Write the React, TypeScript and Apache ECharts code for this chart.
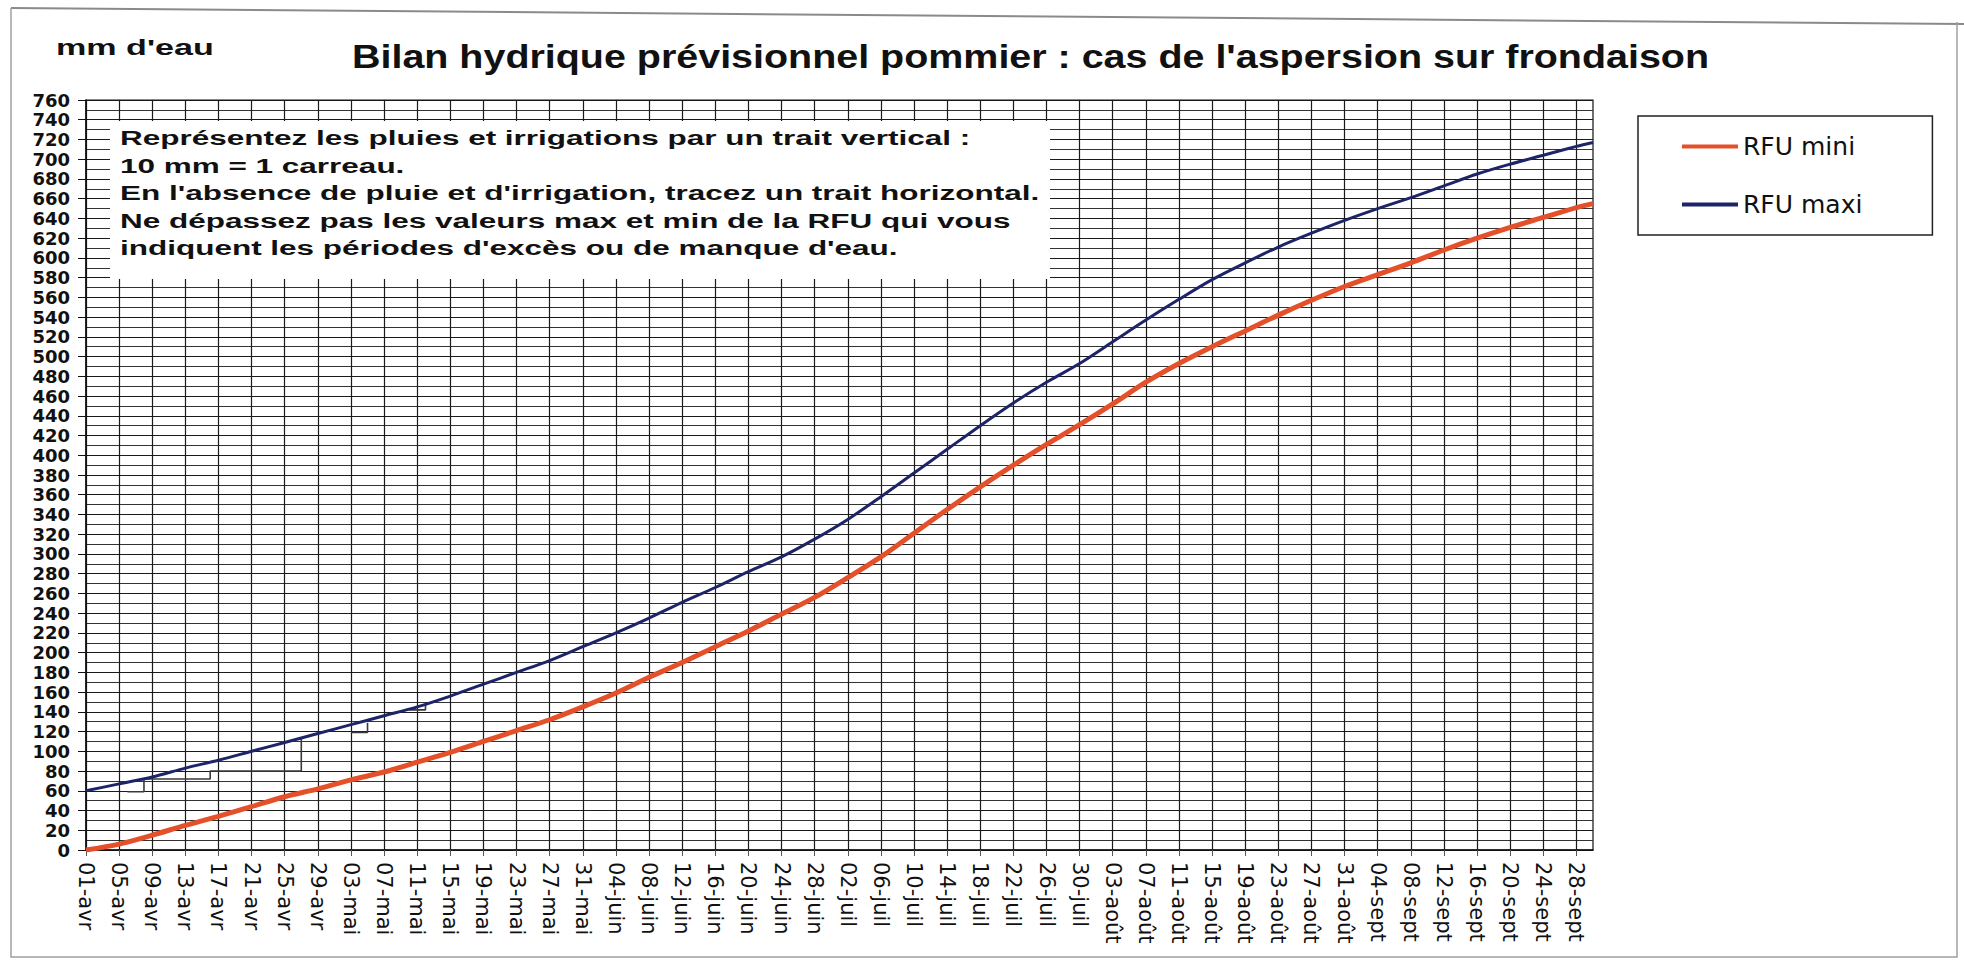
import React, { useEffect, useRef } from "react";
import * as echarts from "echarts";

// ---- data ----
const monthNames = ["avr", "mai", "juin", "juil", "août", "sept"];
const monthLengths = [30, 31, 30, 31, 31, 30];

const pointDates = [
  "01-avr", "05-avr", "09-avr", "13-avr", "17-avr", "21-avr", "25-avr", "29-avr",
  "03-mai", "07-mai", "11-mai", "15-mai", "19-mai", "23-mai", "27-mai", "31-mai",
  "04-juin", "08-juin", "12-juin", "16-juin", "20-juin", "24-juin", "28-juin",
  "02-juil", "06-juil", "10-juil", "14-juil", "18-juil", "22-juil", "26-juil", "30-juil",
  "03-août", "07-août", "11-août", "15-août", "19-août", "23-août", "27-août", "31-août",
  "04-sept", "08-sept", "12-sept", "16-sept", "20-sept", "24-sept", "28-sept", "30-sept",
];

const rfuMini = [
  0, 6, 15, 25, 34, 44, 54, 62,
  71, 79, 89, 99, 110, 121, 132, 145,
  159, 175, 190, 206, 222, 239, 256,
  276, 297, 321, 345, 368, 390, 411, 431,
  452, 474, 493, 510, 526, 542, 557, 571,
  583, 595, 608, 620, 631, 641, 651, 655,
];

const rfuMaxi = [
  60, 67, 74, 83, 91, 100, 109, 118,
  127, 136, 145, 156, 168, 180, 192, 206,
  220, 235, 251, 266, 282, 297, 315,
  335, 358, 382, 406, 430, 453, 474, 493,
  515, 537, 558, 578, 595, 611, 625, 638,
  650, 661, 673, 685, 695, 704, 713, 717,
];

// hand-drawn pencil trace (day index, mm)
const traceSegments = [
  [[5, 59], [7, 59], [7, 72], [15, 72], [15, 80], [26, 80], [26, 113]],
  [[32, 119], [34, 119], [34, 129]],
  [[39, 142], [41, 142], [41, 147]],
];

const yTicks = { min: 0, max: 760, step: 20 };

const titleText = "Bilan hydrique prévisionnel pommier : cas de l'aspersion sur frondaison";
const unitText = "mm d'eau";
const noteLines = [
  "Représentez les pluies et irrigations par un trait vertical :",
  "10 mm = 1 carreau.",
  "En l'absence de pluie et d'irrigation, tracez un trait horizontal.",
  "Ne dépassez pas les valeurs max et min de la RFU qui vous",
  "indiquent les périodes d'excès ou de manque d'eau.",
];

const categories: string[] = [];
monthNames.forEach((m, mi) => {
  for (let d = 1; d <= monthLengths[mi]; d++) {
    categories.push((d < 10 ? "0" : "") + d + "-" + m);
  }
});

const RED = "#E4502A";
const BLUE = "#1D2468";

export default function App() {
  const ref = useRef<HTMLDivElement>(null);
  useEffect(() => {
    if (!ref.current) return;
    const chart = echarts.init(ref.current, undefined, { renderer: "svg" });

    const miniData = pointDates.map((d, i) => [categories.indexOf(d), rfuMini[i]]);
    const maxiData = pointDates.map((d, i) => [categories.indexOf(d), rfuMaxi[i]]);

    const traceSeries = traceSegments.map((seg, i) => ({
      name: "trace" + i,
      type: "line",
      data: seg,
      showSymbol: false,
      lineStyle: { color: "#3a3a3a", width: 1.6 },
      z: 3,
      silent: true,
    }));

    const graphics: any[] = [
      {
        type: "polyline",
        shape: { points: [[11, 8], [1964, 24]] },
        style: { stroke: "#8a8a8a", lineWidth: 2, fill: null },
      },
      {
        type: "polyline",
        shape: { points: [[11, 8], [11, 957], [1957, 957], [1957, 22]] },
        style: { stroke: "#a0a0a0", lineWidth: 1.5, fill: null },
      },
      {
        type: "text",
        x: 56,
        y: 47,
        scaleX: 1.55,
        style: {
          text: unitText,
          fontFamily: "Liberation Sans",
          fontWeight: "bold",
          fontSize: 22,
          fill: "#111",
          align: "left",
          verticalAlign: "middle",
        },
      },
      {
        type: "text",
        x: 352,
        y: 57,
        scaleX: 1.195,
        style: {
          text: titleText,
          fontFamily: "Liberation Sans",
          fontWeight: "bold",
          fontSize: 33,
          fill: "#111",
          align: "left",
          verticalAlign: "middle",
        },
      },
      {
        type: "rect",
        z: 10,
        shape: { x: 110, y: 121, width: 940, height: 158 },
        style: { fill: "#ffffff", stroke: null },
      },
    ];
    noteLines.forEach((t, i) => {
      graphics.push({
        type: "text",
        z: 11,
        x: 120,
        y: 138 + i * 27.5,
        scaleX: 1.5,
        style: {
          text: t,
          fontFamily: "Liberation Sans",
          fontWeight: "bold",
          fontSize: 21,
          fill: "#111",
          align: "left",
          verticalAlign: "middle",
        },
      });
    });

    chart.setOption({
      animation: false,
      backgroundColor: "#ffffff",
      grid: {
        left: 86,
        right: 371,
        top: 100,
        bottom: 117,
        show: true,
        borderColor: "#111",
        borderWidth: 1.2,
        containLabel: false,
      },
      legend: {
        orient: "vertical",
        left: 1638,
        top: 116,
        padding: [18, 70, 18, 44],
        itemWidth: 56,
        itemHeight: 4,
        itemGap: 33,
        borderColor: "#222",
        borderWidth: 1.5,
        icon: "rect",
        data: ["RFU mini", "RFU maxi"],
        textStyle: {
          fontFamily: "DejaVu Sans",
          fontSize: 25,
          lineHeight: 25,
          color: "#111",
        },
      },
      xAxis: {
        type: "category",
        data: categories,
        boundaryGap: false,
        axisLine: { lineStyle: { color: "#111", width: 1.5 } },
        axisTick: { show: true, interval: 3, length: 6, lineStyle: { color: "#555" } },
        axisLabel: {
          interval: 3,
          rotate: -90,
          margin: 12,
          fontFamily: "DejaVu Sans",
          fontSize: 21,
          color: "#111",
        },
        splitLine: { show: true, interval: 3, lineStyle: { color: "#1a1a1a", width: 1.2 } },
      },
      yAxis: {
        type: "value",
        min: yTicks.min,
        max: yTicks.max,
        interval: yTicks.step,
        axisLine: { show: true, lineStyle: { color: "#111", width: 1.5 } },
        axisTick: { show: true, length: 8, lineStyle: { color: "#111" } },
        axisLabel: {
          margin: 16,
          fontFamily: "DejaVu Sans",
          fontWeight: "bold",
          fontSize: 18,
          lineHeight: 18,
          color: "#111",
          showMinLabel: true,
          showMaxLabel: true,
          hideOverlap: false,
        },
        splitLine: { show: true, lineStyle: { color: "#1a1a1a", width: 1 } },
        minorTick: { show: false, splitNumber: 2 },
        minorSplitLine: { show: true, lineStyle: { color: "#333", width: 1 } },
      },
      series: [
        {
          name: "RFU mini",
          type: "line",
          data: miniData,
          showSymbol: false,
          smooth: 0.3,
          color: RED,
          lineStyle: { color: RED, width: 5 },
          z: 4,
        },
        {
          name: "RFU maxi",
          type: "line",
          data: maxiData,
          showSymbol: false,
          smooth: 0.3,
          color: BLUE,
          lineStyle: { color: BLUE, width: 3 },
          z: 4,
        },
        ...traceSeries,
      ],
      graphic: graphics,
    });
    return () => chart.dispose();
  }, []);
  return (
    <div
      ref={ref}
      style={{ position: "fixed", left: 0, top: 0, width: 1964, height: 967, background: "#fff" }}
    />
  );
}
